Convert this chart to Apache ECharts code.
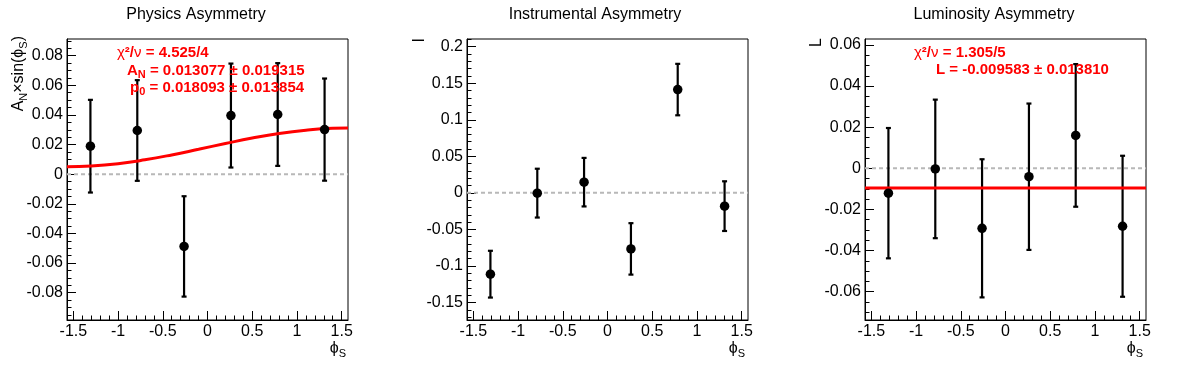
<!DOCTYPE html>
<html><head><meta charset="utf-8">
<script src="https://cdn.jsdelivr.net/npm/echarts@6/dist/echarts.min.js"></script>
<style>html,body{margin:0;padding:0;background:#fff}#c{width:1196px;height:372px}</style>
</head><body><div id="c"></div>
<script>
// ---- data ----
const phiS = [-1.309, -0.785, -0.262, 0.262, 0.785, 1.309];
const physVal = [0.0189, 0.0295, -0.0488, 0.0396, 0.0403, 0.0301];
const physErr = [0.0313, 0.0340, 0.0339, 0.0351, 0.0347, 0.0345];
const instVal = [-0.1113, -0.0004, 0.0146, -0.0767, 0.1413, -0.0182];
const instErr = [0.0320, 0.0334, 0.0332, 0.0352, 0.0352, 0.0340];
const lumiVal = [-0.0121, -0.0003, -0.0292, -0.0041, 0.0160, -0.0282];
const lumiErr = [0.0317, 0.0337, 0.0336, 0.0356, 0.0347, 0.0343];
const physFitX = [-1.5708, -1.3, -1.0, -0.7, -0.4, -0.1, 0.2, 0.5, 0.8, 1.1, 1.4, 1.5708];
const physFitY = [0.0050, 0.0055, 0.0071, 0.0097, 0.0130, 0.0168, 0.0207, 0.0244, 0.0275, 0.0297, 0.0310, 0.0312];
const lumiFitX = [-1.5708, 1.5708];
const lumiFitY = [-0.009583, -0.009583];
const xTicks = [-1.5, -1, -0.5, 0, 0.5, 1, 1.5];
const physYTicks = [-0.08, -0.06, -0.04, -0.02, 0, 0.02, 0.04, 0.06, 0.08];
const instYTicks = [-0.15, -0.1, -0.05, 0, 0.05, 0.1, 0.15, 0.2];
const lumiYTicks = [-0.06, -0.04, -0.02, 0, 0.02, 0.04, 0.06];
const titles = ['Physics Asymmetry', 'Instrumental Asymmetry', 'Luminosity Asymmetry'];

const XMIN = -1.5708, XMAX = 1.5708;
const yRanges = [[-0.0985, 0.0913], [-0.174, 0.2105], [-0.0738, 0.0629]];
const yMinorStep = [0.005, 0.01, 0.005];
const FONT = 'Liberation Sans, Arial, Helvetica, sans-serif';

function steps(lo, hi, st) {
  const out = [];
  const n0 = Math.ceil(lo / st - 1e-9), n1 = Math.floor(hi / st + 1e-9);
  for (let k = n0; k <= n1; k++) out.push(Math.round(k * st * 10000) / 10000);
  return out;
}
const fmt = v => String(Math.round(v * 10000) / 10000);

const grids = [
  {left: 67, top: 39, width: 281, height: 281},
  {left: 467, top: 39, width: 281, height: 281},
  {left: 865, top: 39, width: 281, height: 281}
].map(g => Object.assign(g, {show: true, borderColor: '#000', borderWidth: 1, backgroundColor: 'transparent'}));

const yTicksAll = [physYTicks, instYTicks, lumiYTicks];
const xAxes = [], yAxes = [];
for (let i = 0; i < 3; i++) {
  xAxes.push({type: 'value', gridIndex: i, min: XMIN, max: XMAX, position: 'bottom',
    axisLine: {show: true, onZero: false, lineStyle: {color: '#000', width: 1}},
    axisTick: {show: true, inside: true, length: 9, customValues: xTicks, lineStyle: {color: '#000', width: 1}},
    axisLabel: {customValues: xTicks, margin: 4, fontSize: 16, color: '#000', fontFamily: FONT, formatter: fmt},
    splitLine: {show: false}});
  xAxes.push({type: 'value', gridIndex: i, min: XMIN, max: XMAX, position: 'bottom',
    axisLine: {show: false, onZero: false},
    axisTick: {show: true, inside: true, length: 4.5, customValues: steps(-1.5, 1.5, 0.1), lineStyle: {color: '#000', width: 1}},
    axisLabel: {show: false}, splitLine: {show: false}});
  yAxes.push({type: 'value', gridIndex: i, min: yRanges[i][0], max: yRanges[i][1], position: 'left',
    axisLine: {show: true, onZero: false, lineStyle: {color: '#000', width: 1}},
    axisTick: {show: true, inside: true, length: 9, customValues: yTicksAll[i], lineStyle: {color: '#000', width: 1}},
    axisLabel: {customValues: yTicksAll[i], margin: 4, fontSize: 16, color: '#000', fontFamily: FONT, formatter: fmt},
    splitLine: {show: false}});
  yAxes.push({type: 'value', gridIndex: i, min: yRanges[i][0], max: yRanges[i][1], position: 'left',
    axisLine: {show: false, onZero: false},
    axisTick: {show: true, inside: true, length: 4.5, customValues: steps(yRanges[i][0], yRanges[i][1], yMinorStep[i]), lineStyle: {color: '#000', width: 1}},
    axisLabel: {show: false}, splitLine: {show: false}});
}

function renderErr(params, api) {
  const x = api.value(0), y = api.value(1), e = api.value(2);
  const top = api.coord([x, y + e]);
  const bot = api.coord([x, y - e]);
  const cw = 2.5;
  const style = {stroke: '#000', lineWidth: 2.2};
  return {type: 'group', children: [
    {type: 'line', shape: {x1: top[0], y1: top[1], x2: bot[0], y2: bot[1]}, style: style},
    {type: 'line', shape: {x1: top[0] - cw, y1: top[1], x2: top[0] + cw, y2: top[1]}, style: style},
    {type: 'line', shape: {x1: bot[0] - cw, y1: bot[1], x2: bot[0] + cw, y2: bot[1]}, style: style}
  ]};
}

const vals = [physVal, instVal, lumiVal], errs = [physErr, instErr, lumiErr];
const series = [];
for (let i = 0; i < 3; i++) {
  series.push({type: 'line', xAxisIndex: 2 * i, yAxisIndex: 2 * i, data: [[XMIN, 0], [XMAX, 0]],
    symbol: 'none', silent: true, z: 1, lineStyle: {color: '#b8b8b8', width: 2, type: [4, 3]}});
  series.push({type: 'custom', xAxisIndex: 2 * i, yAxisIndex: 2 * i, renderItem: renderErr, z: 3,
    data: phiS.map((x, k) => [x, vals[i][k], errs[i][k]])});
}
series.push({type: 'line', xAxisIndex: 0, yAxisIndex: 0, data: physFitX.map((x, k) => [x, physFitY[k]]),
  symbol: 'none', smooth: true, z: 4, lineStyle: {color: '#ff0000', width: 3}});
series.push({type: 'line', xAxisIndex: 4, yAxisIndex: 4, data: lumiFitX.map((x, k) => [x, lumiFitY[k]]),
  symbol: 'none', z: 4, lineStyle: {color: '#ff0000', width: 3}});
for (let i = 0; i < 3; i++) {
  series.push({type: 'scatter', xAxisIndex: 2 * i, yAxisIndex: 2 * i, symbol: 'circle', symbolSize: 9.5, z: 5,
    itemStyle: {color: '#000', opacity: 1}, data: phiS.map((x, k) => [x, vals[i][k]])});
}

const red = '#ff0000';
const richStat = {
  n: {fontSize: 15, fontWeight: 'bold', color: red, fontFamily: FONT, lineHeight: 18},
  g: {fontSize: 15, fontWeight: 'normal', color: red, fontFamily: FONT, lineHeight: 18},
  s: {fontSize: 11, fontWeight: 'bold', color: red, fontFamily: FONT, lineHeight: 18, verticalAlign: 'bottom'}
};
function statText(x, y, text) {
  return {type: 'text', x: x, y: y, z: 100, style: {text: text, rich: richStat, align: 'left', verticalAlign: 'middle', fill: red, font: 'bold 15px ' + FONT}};
}
const richAxis = {
  n: {fontSize: 16, color: '#000', fontFamily: FONT, lineHeight: 20},
  s: {fontSize: 11, color: '#000', fontFamily: FONT, lineHeight: 20, verticalAlign: 'bottom'}
};
function axisText(x, y, text, rot, align) {
  return {type: 'text', x: x, y: y, rotation: rot, z: 100, style: {text: text, rich: richAxis, align: align, verticalAlign: 'middle', fill: '#000', font: '16px ' + FONT}};
}

const graphics = [
  {type: 'text', x: 196, y: 15, style: {text: titles[0], align: 'center', verticalAlign: 'middle', fill: '#000', font: '16px ' + FONT}},
  {type: 'text', x: 595, y: 15, style: {text: titles[1], align: 'center', verticalAlign: 'middle', fill: '#000', font: '16px ' + FONT}},
  {type: 'text', x: 994, y: 15, style: {text: titles[2], align: 'center', verticalAlign: 'middle', fill: '#000', font: '16px ' + FONT}},
  statText(117, 53, '{g|χ}{n|²/}{g|ν}{n| = 4.525/4}'),
  statText(127, 71, '{n|A}{s|N}{n| = 0.013077 ± 0.019315}'),
  statText(130, 88, '{n|p}{s|0}{n| = 0.018093 ± 0.013854}'),
  statText(914, 53, '{g|χ}{n|²/}{g|ν}{n| = 1.305/5}'),
  statText(936, 70, '{n|L = -0.009583 ± 0.013810}'),
  axisText(19, 36, '{n|A}{s|N}{n|×sin(ϕ}{s|S}{n|)}', Math.PI / 2, 'right'),
  axisText(420, 38, '{n|I}', Math.PI / 2, 'right'),
  axisText(817, 38, '{n|L}', Math.PI / 2, 'right'),
  axisText(338, 349, '{n|ϕ}{s|S}', 0, 'center'),
  axisText(737, 349, '{n|ϕ}{s|S}', 0, 'center'),
  axisText(1135, 349, '{n|ϕ}{s|S}', 0, 'center')
];

const chart = echarts.init(document.getElementById('c'), null, {renderer: 'canvas'});
chart.setOption({
  animation: false,
  backgroundColor: '#fff',
  grid: grids,
  xAxis: xAxes,
  yAxis: yAxes,
  series: series,
  graphic: graphics
});
</script>
</body></html>
